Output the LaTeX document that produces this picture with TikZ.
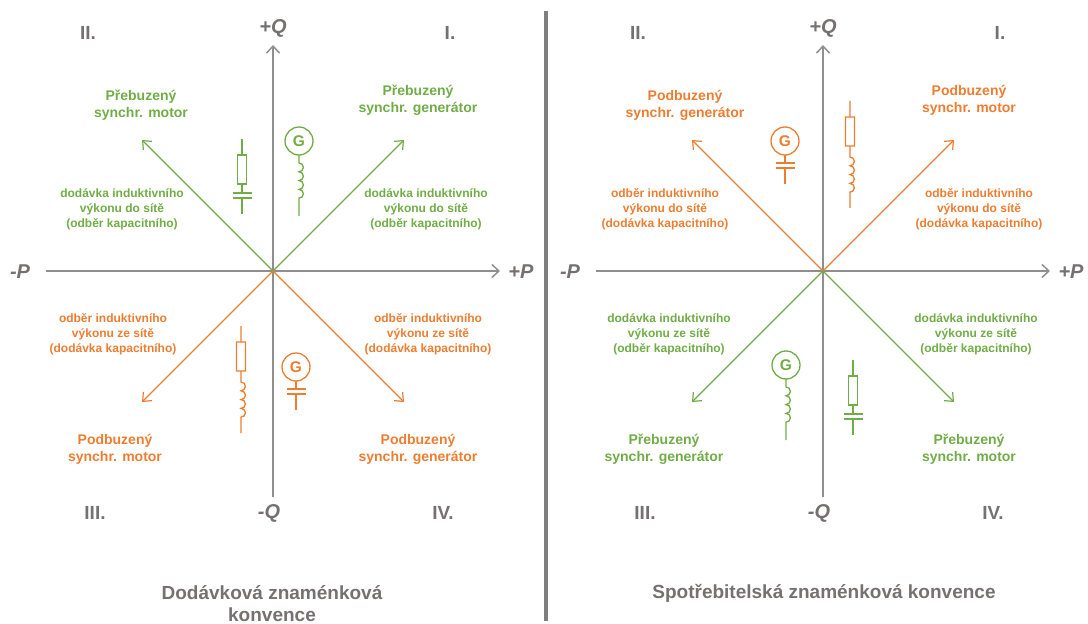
\documentclass[tikz,border=0pt]{standalone}
\usepackage{fontspec}
\setmainfont{Liberation Sans}
\usetikzlibrary{arrows.meta}
\definecolor{cgreen}{HTML}{70AD47}
\definecolor{corange}{HTML}{ED7D31}
\definecolor{caxis}{HTML}{8F8F8F}
\definecolor{ctext}{HTML}{767171}
\definecolor{cdiv}{HTML}{7F7F7F}

\tikzset{
 axisline/.style={draw=caxis, line width=1.5bp, -{Straight Barb[length=7bp,width=13bp]}},
 vecline/.style={line width=1.2bp, -{Straight Barb[length=7bp,width=12bp]}},
 axlabel/.style={text=ctext, font=\fontsize{20bp}{22bp}\selectfont\bfseries\itshape, inner sep=0pt},
 quadnum/.style={text=ctext, font=\fontsize{19bp}{21bp}\selectfont\bfseries, inner sep=0pt},
 machlabel/.style={align=center, font=\fontsize{14bp}{17bp}\selectfont\bfseries, inner sep=0pt},
 flowlabel/.style={align=center, font=\fontsize{12bp}{15bp}\selectfont\bfseries, inner sep=0pt},
 titlelabel/.style={align=center, text=ctext, font=\fontsize{19bp}{22bp}\selectfont\bfseries, inner sep=0pt},
 sym/.style={line width=1.3bp},
 glabel/.style={font=\fontsize{15.5bp}{17bp}\selectfont\bfseries, inner sep=0pt},
}
\newcommand{\coilpath}{arc[start angle=-90,end angle=90,radius=4.4] arc[start angle=-90,end angle=90,radius=4.4] arc[start angle=-90,end angle=90,radius=4.4] arc[start angle=-90,end angle=90,radius=4.4]}
\tikzset{
 rcap/.pic={
   \draw[sym] (0,0) -- (0,16) (-4.5,16) rectangle (4.5,45) (0,45) -- (0,54)
     (-9.5,54) -- (9.5,54) (-9.5,59) -- (9.5,59) (0,59) -- (0,75);
 },
 rind/.pic={
   \draw[sym] (0,0) -- (0,16) (-4.5,16) rectangle (4.5,45) (0,45) -- (0,56)
     \coilpath -- (0,107);
 },
 gcap/.pic={
   \draw[sym] (0,0) circle[radius=14];
   \node[glabel] (-G) at (0,0) {G};
   \draw[sym] (0,14) -- (0,22) (-9.5,22) -- (9.5,22) (-9.5,27) -- (9.5,27) (0,27) -- (0,43);
 },
 gind/.pic={
   \draw[sym] (0,0) circle[radius=14];
   \node[glabel] (-G) at (0,0) {G};
   \draw[sym] (0,14) -- (0,22) \coilpath -- (0,75);
 },
}
\newcommand{\diagaxes}[1]{%
 \coordinate (#1O) at (273,271);
 \coordinate (#1W) at (46,271);
 \coordinate (#1E) at (500,271);
 \coordinate (#1S) at (273,497);
 \coordinate (#1N) at (273,45);
 \draw[axisline] (#1W) -- (#1E);
 \draw[axisline] (#1S) -- (#1N);
 \node[axlabel] (#1Pp) at (521,272) {+P};
 \node[axlabel] (#1Pm) at (20,272) {-P};
 \node[axlabel] (#1Qp) at (273,28) {+Q};
 \node[axlabel] (#1Qm) at (269,513) {-Q};
 \node[quadnum] (#1q1) at (450,33) {I.};
 \node[quadnum] (#1q2) at (88,33) {II.};
 \node[quadnum] (#1q3) at (95,513) {III.};
 \node[quadnum] (#1q4) at (443,513) {IV.};
 \coordinate (#1ul) at (142,140);
 \coordinate (#1ur) at (404,140);
 \coordinate (#1ll) at (142,402);
 \coordinate (#1lr) at (404,402);
}

\begin{document}
\begin{tikzpicture}[x=1bp,y=-1bp]
\useasboundingbox (0,0) rectangle (1088,624);

% divider
\coordinate (divtop) at (546,11);
\coordinate (divbot) at (546,621);
\draw[cdiv, line width=3.5bp] (divtop) -- (divbot);

% ---------- left: Dodávková konvence ----------
\begin{scope}
\diagaxes{A}
\draw[vecline, cgreen] (AO) -- (Aul);
\draw[vecline, cgreen] (AO) -- (Aur);
\draw[vecline, corange] (AO) -- (All);
\draw[vecline, corange] (AO) -- (Alr);

\node[machlabel, text=cgreen] (Amul) at (141,105) {Přebuzený\\synchr. motor};
\node[machlabel, text=cgreen] (Amur) at (418,100) {Přebuzený\\synchr. generátor};
\node[machlabel, text=corange] (Amll) at (115,449) {Podbuzený\\synchr. motor};
\node[machlabel, text=corange] (Amlr) at (418,449) {Podbuzený\\synchr. generátor};

\node[flowlabel, text=cgreen] (Aful) at (122,209) {dodávka induktivního\\výkonu do sítě\\(odběr kapacitního)};
\node[flowlabel, text=cgreen] (Afur) at (426,209) {dodávka induktivního\\výkonu do sítě\\(odběr kapacitního)};
\node[flowlabel, text=corange] (Afll) at (113,334) {odběr induktivního\\výkonu ze sítě\\(dodávka kapacitního)};
\node[flowlabel, text=corange] (Aflr) at (428,334) {odběr induktivního\\výkonu ze sítě\\(dodávka kapacitního)};

\pic[color=cgreen] (Asul) at (242,139) {rcap};
\pic[color=cgreen] (Asur) at (299,141) {gind};
\pic[color=corange] (Asll) at (241,326) {rind};
\pic[color=corange] (Aslr) at (296,367) {gcap};

\node[titlelabel] (Atitle) at (272,604) {Dodávková znaménková\\konvence};
\end{scope}

% ---------- right: Spotřebitelská konvence ----------
\begin{scope}[shift={(550,0)}]
\diagaxes{B}
\draw[vecline, corange] (BO) -- (Bul);
\draw[vecline, corange] (BO) -- (Bur);
\draw[vecline, cgreen] (BO) -- (Bll);
\draw[vecline, cgreen] (BO) -- (Blr);

\node[machlabel, text=corange] (Bmul) at (135,105) {Podbuzený\\synchr. generátor};
\node[machlabel, text=corange] (Bmur) at (419,100) {Podbuzený\\synchr. motor};
\node[machlabel, text=cgreen] (Bmll) at (114,449) {Přebuzený\\synchr. generátor};
\node[machlabel, text=cgreen] (Bmlr) at (419,449) {Přebuzený\\synchr. motor};

\node[flowlabel, text=corange] (Bful) at (115,209) {odběr induktivního\\výkonu do sítě\\(dodávka kapacitního)};
\node[flowlabel, text=corange] (Bfur) at (429,209) {odběr induktivního\\výkonu do sítě\\(dodávka kapacitního)};
\node[flowlabel, text=cgreen] (Bfll) at (119,334) {dodávka induktivního\\výkonu ze sítě\\(odběr kapacitního)};
\node[flowlabel, text=cgreen] (Bflr) at (426,334) {dodávka induktivního\\výkonu ze sítě\\(odběr kapacitního)};

\pic[color=corange] (Bsul) at (235,141) {gcap};
\pic[color=corange] (Bsur) at (300,101) {rind};
\pic[color=cgreen] (Bsll) at (236,365) {gind};
\pic[color=cgreen] (Bslr) at (303,360) {rcap};

\node[titlelabel] (Btitle) at (274,593) {Spotřebitelská znaménková konvence};
\end{scope}
\end{tikzpicture}
\end{document}
